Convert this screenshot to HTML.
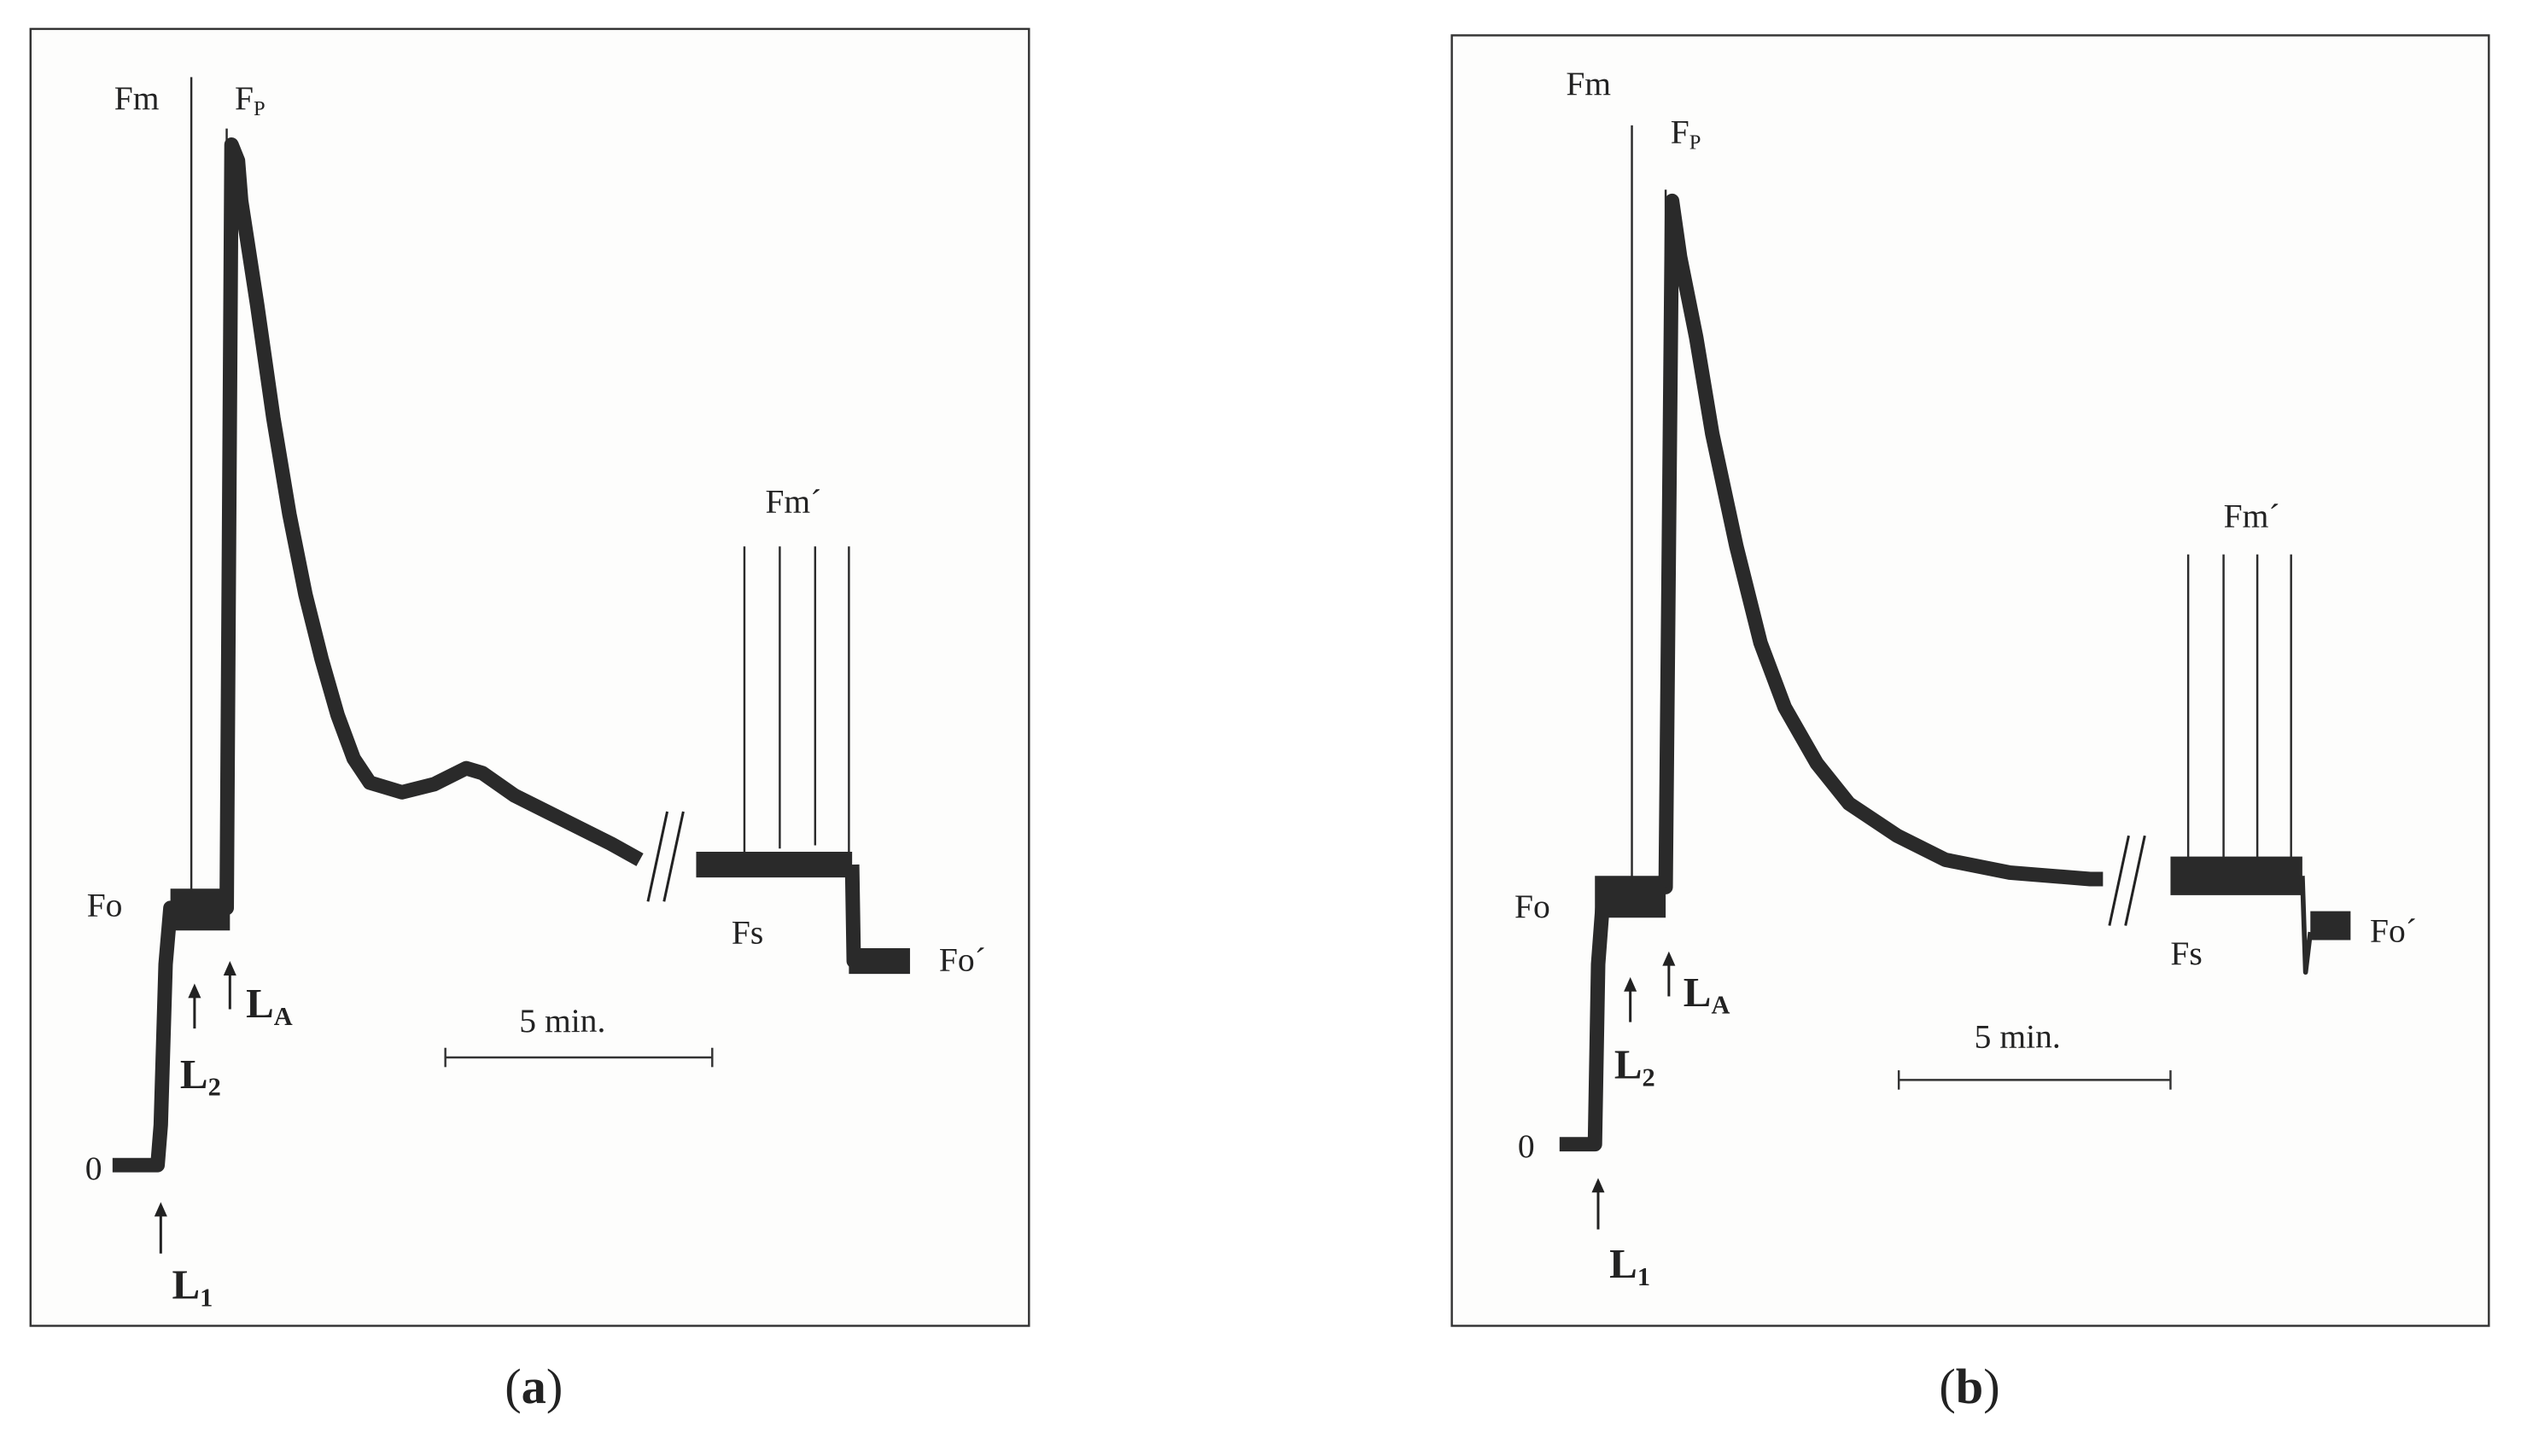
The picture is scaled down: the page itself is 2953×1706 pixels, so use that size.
<!DOCTYPE html>
<html><head><meta charset="utf-8"><style>
html,body{margin:0;padding:0;background:#fff;}
svg{display:block;}
text{font-family:"Liberation Serif",serif;fill:#222;}
</style></head><body>
<svg id="fig" width="2953" height="1706" viewBox="0 0 1568 906" preserveAspectRatio="none">
<rect x="19" y="18" width="621" height="807" fill="#fdfdfc" stroke="#333" stroke-width="1.3"/>
<rect x="903" y="22" width="645" height="803" fill="#fdfdfc" stroke="#333" stroke-width="1.3"/>
<g id="ga"></g>
<g id="gb"></g>
<text x="332" y="873" font-size="31" text-anchor="middle">(<tspan font-weight="bold">a</tspan>)</text>
<text x="1225" y="873" font-size="31" text-anchor="middle">(<tspan font-weight="bold">b</tspan>)</text>
</svg>
<script>
// Panel A trace segments
const traceA1X=[70,98,100,103,106,118,119,140,141,144,148,150,160,170,180,190,200,210,220,230,250,270,290,300,320,350,380,398];
const traceA1Y=[725,725,700,600,565,565,565,565,565,90,100,125,190,260,320,370,410,445,472,487,493,488,478,481,495,510,525,535];
const traceA2X=[433,530];
const traceA2Y=[538,538];
const traceA3X=[530,531,565];
const traceA3Y=[538,598,598];
const plateauAX=[106,143];
const plateauAY=[566,566];
const spikeAX=[119,141,463,485,507,528];
const spikeATop=[48,80,340,340,340,340];
const spikeABase=[560,560,530,528,526,530];
// Panel B
const traceB1X=[970,992,994,997,1015,1016,1035,1036,1040,1045,1055,1065,1080,1095,1110,1130,1150,1180,1210,1250,1300,1308];
const traceB1Y=[712,712,600,560,562,552,552,552,125,160,210,270,340,400,440,475,500,520,535,543,547,547];
const traceB2X=[1350,1432];
const traceB2Y=[545,545];
const traceB3X=[1437,1462];
const traceB3Y=[576,576];
const plateauBX=[992,1036];
const plateauBY=[558,558];
const spikeBX=[1015,1036,1361,1383,1404,1425];
const spikeBTop=[78,118,345,345,345,345];
const spikeBBase=[552,552,540,538,536,538];

const NS='http://www.w3.org/2000/svg';
function mk(tag,attrs,parent){const e=document.createElementNS(NS,tag);for(const k in attrs)e.setAttribute(k,attrs[k]);parent.appendChild(e);return e;}
function poly(g,xs,ys,w){
  const p=mk('polyline',{points:xs.map((x,i)=>x+','+ys[i]).join(' '),fill:'none',stroke:'#2a2a2a','stroke-width':w,'stroke-linejoin':'round'},g);
  
  
}
function spikes(g,xs,tops,bases){
  xs.forEach((x,i)=>{
    const l=mk('line',{x1:x,x2:x,y1:tops[i],y2:bases[i],stroke:'#2a2a2a','stroke-width':1.3},g);
    
    
  });
}
function txt(g,x,y,s,str,name,bold,sub){
  const t=mk('text',{x:x,y:y,'font-size':s},g);
  if(bold)t.setAttribute('font-weight','bold');
  t.textContent=str;
  if(sub){const ts=mk('tspan',{'font-size':s*0.62,dy:s*0.18},t);ts.textContent=sub;}
  
  
}
function arrow(g,x,y1,y2,name){
  const l=mk('line',{x1:x,x2:x,y1:y1+6,y2:y2,stroke:'#222','stroke-width':1.6},g);
  
  
  const p=mk('polygon',{points:(x-4)+','+(y1+9)+' '+(x+4)+','+(y1+9)+' '+x+','+y1,fill:'#222'},g);
  
  
}
function brk(g,x,y){
  [0,10].forEach(d=>{const l=mk('line',{x1:x+d,y1:y+28,x2:x+d+12,y2:y-28,stroke:'#222','stroke-width':1.6},g);
  
  });
}
function bar(g,x1,x2,y){
  const l=mk('line',{x1:x1,x2:x2,y1:y,y2:y,stroke:'#333','stroke-width':1.3},g);
  
  [x1,x2].forEach(x=>{const t=mk('line',{x1:x,x2:x,y1:y-6,y2:y+6,stroke:'#333','stroke-width':1.3},g);
  });
}
const ga=document.getElementById('ga'), gb=document.getElementById('gb');
poly(ga,traceA1X,traceA1Y,9);poly(ga,plateauAX,plateauAY,26);poly(ga,traceA2X,traceA2Y,16);poly(ga,traceA3X,traceA3Y,9);
poly(ga,[528,566],[598,598],16);
spikes(ga,spikeAX,spikeATop,spikeABase);
poly(gb,traceB1X,traceB1Y,9);poly(gb,plateauBX,plateauBY,26);poly(gb,traceB2X,traceB2Y,24);poly(gb,traceB3X,traceB3Y,18);
poly(gb,[1432,1434,1437],[545,605,580],3);
spikes(gb,spikeBX,spikeBTop,spikeBBase);
brk(ga,403,533);brk(gb,1312,548);
bar(ga,277,443,658);bar(gb,1181,1350,672);
// Labels A
txt(ga,71,68,21,'Fm','label-fm');txt(ga,146,68,21,'F','label-fp',false,'P');
txt(ga,476,319,21,'Fm´','label-fm-prime');txt(ga,54,570,21,'Fo','label-fo');
txt(ga,455,587,21,'Fs','label-fs');txt(ga,584,604,21,'Fo´','label-fo-prime');
txt(ga,53,734,21,'0','label-zero');txt(ga,323,642,21,'5 min.','scale-bar-label');
txt(ga,107,808,26,'L','label-l1',true,'1');txt(ga,112,677,26,'L','label-l2',true,'2');txt(ga,153,633,26,'L','label-la',true,'A');
arrow(ga,100,748,780,'arrow-l1');arrow(ga,121,612,640,'arrow-l2');arrow(ga,143,598,628,'arrow-la');
// Labels B
txt(gb,974,59,21,'Fm','label-fm');txt(gb,1039,89,21,'F','label-fp',false,'P');
txt(gb,1383,328,21,'Fm´','label-fm-prime');txt(gb,942,571,21,'Fo','label-fo');
txt(gb,1350,600,21,'Fs','label-fs');txt(gb,1474,586,21,'Fo´','label-fo-prime');
txt(gb,944,720,21,'0','label-zero');txt(gb,1228,652,21,'5 min.','scale-bar-label');
txt(gb,1001,795,26,'L','label-l1',true,'1');txt(gb,1004,671,26,'L','label-l2',true,'2');txt(gb,1047,626,26,'L','label-la',true,'A');
arrow(gb,994,733,765,'arrow-l1');arrow(gb,1014,608,636,'arrow-l2');arrow(gb,1038,592,620,'arrow-la');
</script>
</body></html>
